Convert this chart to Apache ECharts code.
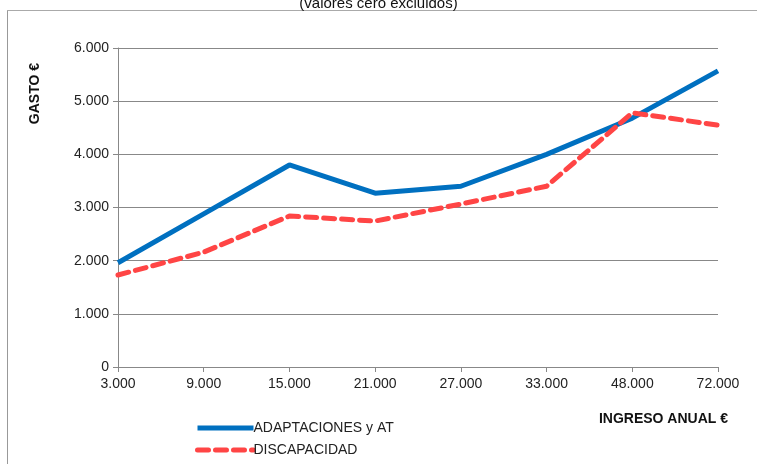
<!DOCTYPE html>
<html><head><meta charset="utf-8">
<script src="https://cdn.jsdelivr.net/npm/echarts@6/dist/echarts.min.js"></script>
<style>html,body{margin:0;padding:0;background:#fff}#c{width:757px;height:464px}</style>
</head><body><div id="c"></div>
<script>
const categories = ['3.000','9.000','15.000','21.000','27.000','33.000','48.000','72.000'];
const adaptaciones = [1960, 2880, 3800, 3270, 3400, 4000, 4680, 5570];
const discapacidad = [1730, 2160, 2840, 2745, 3065, 3400, 4780, 4550];
const yTicks = [0, 1000, 2000, 3000, 4000, 5000, 6000];
const fmt = v => v === 0 ? '0' : (v/1000).toFixed(3);
const font = 'Liberation Sans';
const chart = echarts.init(document.getElementById('c'));
chart.setOption({
  animation: false,
  textStyle: {fontFamily: font},
  title: {text: '(valores cero excluidos)', left: 'center', top: -9,
    textStyle: {fontSize: 15, fontWeight: 'normal', color: '#111', fontFamily: font}},
  grid: {left: 118, right: 39, top: 48, bottom: 97},
  legend: {orient: 'vertical', left: 195, top: 421, height: 43, padding: 0, itemWidth: 56, itemHeight: 8, itemGap: 8,
    itemStyle: {opacity: 0},
    textStyle: {fontSize: 14, color: '#222', fontFamily: font, padding: [0,0,0,-5]},
    data: [
      {name: 'ADAPTACIONES y AT', lineStyle: {width: 5, color: '#0070C0'}},
      {name: 'DISCAPACIDAD', lineStyle: {width: 5, color: '#FF4545', type: [11, 7], cap: 'round'}}
    ]},
  xAxis: {type: 'category', data: categories, boundaryGap: false,
    name: 'INGRESO ANUAL €', nameLocation: 'end', nameGap: 0,
    nameTextStyle: {fontSize: 14, fontWeight: 'bold', color: '#111', align: 'right', verticalAlign: 'top', padding: [45, -10, 0, 0]},
    axisLine: {lineStyle: {color: '#888'}},
    axisTick: {show: true, length: 5, lineStyle: {color: '#888'}},
    axisLabel: {fontSize: 14, color: '#222', margin: 10}},
  yAxis: {type: 'value', min: 0, max: 6000, interval: 1000,
    name: 'GASTO €', nameLocation: 'end', nameRotate: 90, nameGap: 0,
    nameTextStyle: {fontSize: 14, fontWeight: 'bold', color: '#111', align: 'right', verticalAlign: 'bottom', padding: [0, 15, 76, 0]},
    axisLine: {show: true, lineStyle: {color: '#888'}},
    axisTick: {show: true, length: 5, lineStyle: {color: '#888'}},
    splitLine: {lineStyle: {color: '#888'}},
    axisLabel: {fontSize: 14, color: '#222', margin: 9, formatter: v => yTicks.includes(v) ? fmt(v) : ''}},
  graphic: [
    {type: 'line', shape: {x1: 7.5, y1: 10, x2: 7.5, y2: 464}, style: {stroke: '#999', lineWidth: 1}},
    {type: 'line', shape: {x1: 7, y1: 10.5, x2: 757, y2: 10.5}, style: {stroke: '#aaa', lineWidth: 1}}
  ],
  series: [
    {name: 'ADAPTACIONES y AT', type: 'line', data: adaptaciones, symbol: 'none',
      lineStyle: {color: '#0070C0', width: 5}, itemStyle: {color: '#0070C0'}},
    {name: 'DISCAPACIDAD', type: 'line', data: discapacidad, symbol: 'none',
      lineStyle: {color: '#FF4545', width: 5, type: [11, 7], cap: 'round'}, itemStyle: {color: '#FF4545'}}
  ]
});
</script></body></html>
